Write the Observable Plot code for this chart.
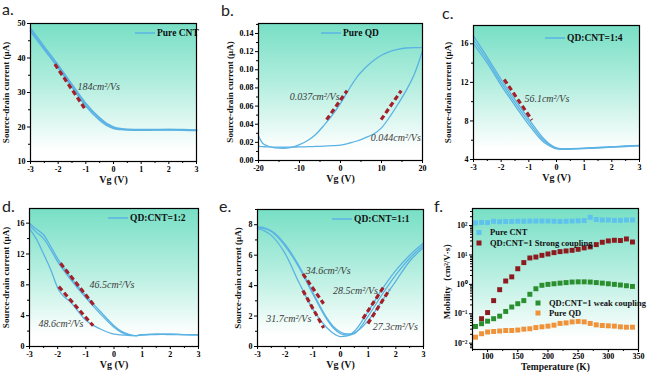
<!DOCTYPE html>
<html><head><meta charset="utf-8">
<script src="https://cdn.jsdelivr.net/npm/d3@7"></script>
<script src="https://cdn.jsdelivr.net/npm/@observablehq/plot@0.6"></script>
<style>
html,body{margin:0;padding:0;background:#fff;}
#root{position:relative;width:647px;height:376px;overflow:hidden;background:#fff;}
.plab{position:absolute;font-family:Lato,'Open Sans',sans-serif;font-size:16px;line-height:16px;color:#222;}
</style></head><body><div id="root"></div>
<script>
// ---------- DATA ----------
// (a) Pure CNT transfer curve
const aVg = [-3,-2.5,-2,-1.5,-1,-0.5,-0.25,0,0.25,0.5,1,1.5,2,2.5,3];
const aFwd = [48.6,43.2,37.9,32.3,26.8,22.6,21.0,20.0,19.5,19.3,19.2,19.25,19.25,19.2,19.1];
const aBwd = [47.8,42.5,37.2,31.6,26.1,22.0,20.5,19.6,19.3,19.15,19.1,19.15,19.2,19.1,19.0];
const aDashX1 = [-2.12], aDashY1 = [38.2], aDashX2 = [-1.05], aDashY2 = [25.5];
const aNote = ["184cm²/Vs"], aNoteX = [-1.3], aNoteY = [31.7];

// (b) Pure QD
const bVg = [-20,-19,-18,-16,-14,-12,-10,-8,-6,-4,-2,0,2,4,6,8,10,12,14,16,18,20];
const bUp = [0.027,0.019,0.0165,0.014,0.0135,0.0145,0.0175,0.022,0.029,0.039,0.050,0.063,0.078,0.092,0.102,0.110,0.116,0.120,0.1225,0.124,0.1245,0.1245];
const bLow = [0.0155,0.0153,0.015,0.0148,0.0147,0.0148,0.015,0.0152,0.0155,0.0158,0.0163,0.017,0.019,0.0215,0.025,0.029,0.036,0.048,0.062,0.077,0.095,0.121];
const bDashX1 = [-3.4, 9.9], bDashY1 = [0.045, 0.045], bDashX2 = [1.6, 14.8], bDashY2 = [0.077, 0.077];
const bNote = ["0.037cm²/Vs", "0.044cm²/Vs"], bNoteX = [-12.4, 7.4], bNoteY = [0.070, 0.025];

// (c) QD:CNT=1:4
const cVg = [-3,-2.5,-2,-1.5,-1,-0.5,-0.25,0,0.25,0.5,1,1.5,2,2.5,3];
const c1 = [16.8,14.6,12.3,10.2,8.2,6.3,5.6,5.2,5.1,5.12,5.18,5.25,5.32,5.4,5.47];
const c2 = [16.4,14.3,12.0,9.9,7.9,6.1,5.5,5.15,5.08,5.1,5.15,5.22,5.3,5.37,5.44];
const c3 = [16.0,14.0,11.7,9.6,7.6,5.9,5.4,5.1,5.05,5.08,5.13,5.2,5.28,5.35,5.42];
const cDashX1 = [-1.89], cDashY1 = [12.3], cDashX2 = [-0.89], cDashY2 = [8.1];
const cNote = ["56.1cm²/Vs"], cNoteX = [-1.16], cNoteY = [10.3];

// (d) QD:CNT=1:2
const dVg = [-3,-2.75,-2.5,-2.25,-2,-1.5,-1,-0.5,0,0.25,0.5,0.75,1,1.5,2,2.5,3];
const dUp1 = [16.0,15.2,14.5,13.0,11.4,8.8,6.6,4.6,2.7,2.0,1.6,1.4,1.55,1.6,1.6,1.55,1.55];
const dUp2 = [15.7,14.8,14.0,12.6,11.0,8.5,6.3,4.3,2.5,1.85,1.5,1.4,1.5,1.55,1.6,1.55,1.5];
const dLow = [15.3,13.9,12.0,10.0,7.6,5.6,3.4,2.3,1.6,1.5,1.45,1.4,1.5,1.6,1.55,1.55,1.5];
const dDashX1 = [-1.9, -1.96], dDashY1 = [10.8, 7.76], dDashX2 = [-0.72, -0.74], dDashY2 = [5.4, 2.69];
const dNote = ["46.5cm²/Vs", "48.6cm²/Vs"], dNoteX = [-0.87, -2.68], dNoteY = [8.0, 2.9];

// (e) QD:CNT=1:1
const eVg = [-3,-2.75,-2.5,-2,-1.5,-1,-0.5,-0.25,0,0.25,0.5,1,1.5,2,2.5,3];
const e1 = [7.75,7.6,7.3,6.1,4.2,2.45,1.25,0.85,0.65,0.7,1.0,2.3,3.75,5.0,6.0,6.8];
const e2 = [7.85,7.8,7.6,6.7,5.3,3.55,1.9,1.3,0.95,0.82,0.9,1.7,3.0,4.3,5.6,6.5];
const e3 = [7.8,7.75,7.55,6.6,5.2,3.45,1.8,1.2,0.85,0.75,0.85,2.0,3.4,4.7,5.8,6.65];
const eDashX1 = [-1.36, -1.36, 0.81, 0.99], eDashY1 = [4.77, 3.68, 1.83, 1.5];
const eDashX2 = [-0.61, -0.61, 1.59, 1.77], eDashY2 = [2.81, 1.22, 4.0, 3.73];
const eNote = ["34.6cm²/Vs", "28.5cm²/Vs", "31.7cm²/Vs", "27.3cm²/Vs"];
const eNoteX = [-1.26, -0.27, -2.68, 1.17], eNoteY = [4.99, 3.68, 1.83, 1.29];

// (f) Mobility vs temperature
const fT = [80,90,100,110,120,130,140,150,160,170,180,190,200,210,220,230,240,250,260,270,280,290,300,310,320,330,340];
const fCNT = [123,128,126,140,135,138,138,140,140,142,142,143,143,140,138,140,143,145,148,190,160,155,155,150,150,155,155];
const fStrongT = fT.slice(1);
const fStrong = [0.068,0.11,0.28,0.66,1.3,1.8,3.4,5.5,7.9,8.5,9.7,10.8,12,13,13.7,14.4,15.6,17.4,18.8,22.5,27,30,31.6,31,35,27.6];
const fWeak = [0.037,0.046,0.056,0.068,0.083,0.12,0.17,0.22,0.28,0.46,0.71,0.93,1.0,1.05,1.1,1.15,1.2,1.22,1.22,1.2,1.15,1.1,1.05,1.0,0.95,0.9,0.85];
const fQD = [0.016,0.021,0.024,0.025,0.026,0.027,0.027,0.028,0.030,0.031,0.034,0.036,0.038,0.041,0.047,0.049,0.053,0.055,0.053,0.047,0.042,0.040,0.039,0.038,0.036,0.035,0.035];
const fNames = ["Pure CNT", "QD:CNT=1 Strong coupling", "QD:CNT=1 weak coupling", "Pure QD"];

// ---------- STYLE ----------
const BLUE = "#5ab3e3", RED = "#a3202b";
const SERIF = "'Liberation Serif','Times New Roman',serif";
const FCOL = {cnt: "#5ec2ec", strong: "#8c1b20", weak: "#2b8f2f", qd: "#f0923a"};
const root = document.getElementById("root");

const ser = (xs, ys, k) => xs.map((x, i) => ({x, y: ys[i], k}));
const links = (x1, y1, x2, y2) => x1.map((v, i) => ({x1: v, y1: y1[i], x2: x2[i], y2: y2[i]}));
const notes = (t, xs, ys) => t.map((s, i) => ({t: s, x: xs[i], y: ys[i]}));
const hy = d => String(d);

function bg(id) {
  return (index, scales, values, dims) => {
    const g = d3.create("svg:g");
    const gr = g.append("defs").append("linearGradient").attr("id", id)
      .attr("x1", 0).attr("y1", 0).attr("x2", 0).attr("y2", 1);
    gr.append("stop").attr("offset", "0%").attr("stop-color", "#77dfc5");
    gr.append("stop").attr("offset", "45%").attr("stop-color", "#b4eedf");
    gr.append("stop").attr("offset", "92%").attr("stop-color", "#ffffff");
    g.append("rect").attr("x", dims.marginLeft).attr("y", dims.marginTop)
      .attr("width", dims.width - dims.marginLeft - dims.marginRight)
      .attr("height", dims.height - dims.marginTop - dims.marginBottom)
      .attr("fill", `url(#${id})`);
    return g.node();
  };
}
function legLine(label, lx, ly) {
  return (index, scales, values, dims) => {
    const g = d3.create("svg:g");
    const x0 = dims.marginLeft + lx, y0 = dims.marginTop + ly;
    g.append("line").attr("x1", x0).attr("x2", x0 + 20).attr("y1", y0).attr("y2", y0)
      .attr("stroke", BLUE).attr("stroke-width", 1.5);
    g.append("text").attr("x", x0 + 22).attr("y", y0).attr("dy", "0.35em")
      .attr("text-anchor", "start").attr("font-size", 9.5).attr("font-weight", "bold")
      .attr("font-family", SERIF).attr("fill", "#111").text(label);
    return g.node();
  };
}
function legSquares(items) {
  return (index, scales, values, dims) => {
    const g = d3.create("svg:g");
    for (const it of items) {
      const x0 = dims.marginLeft + it.lx, y0 = dims.marginTop + it.ly;
      g.append("rect").attr("x", x0 - 2.5).attr("y", y0 - 2.5).attr("width", 5).attr("height", 5).attr("fill", it.c);
      g.append("text").attr("x", x0 + 11).attr("y", y0).attr("dy", "0.35em")
        .attr("text-anchor", "start").attr("font-size", 8.5).attr("font-weight", "bold")
        .attr("font-family", SERIF).attr("fill", "#111").text(it.t);
    }
    return g.node();
  };
}
function dashes(data) {
  return Plot.link(data, {x1: "x1", y1: "y1", x2: "x2", y2: "y2", stroke: RED, strokeWidth: 3.2, strokeDasharray: "5,3"});
}
function noteText(data) {
  return Plot.text(data, {x: "x", y: "y", text: "t", textAnchor: "start", fontSize: 10, fontStyle: "italic", fontFamily: SERIF, fill: "#3a3a3a", fontWeight: "normal"});
}
function curves(data, w) {
  return Plot.line(data, {x: "x", y: "y", z: "k", stroke: BLUE, strokeWidth: w || 1.3, curve: "monotone-x"});
}

function panel(o) {
  const [t, r, b, l] = o.margin;
  const svg = Plot.plot({
    width: o.width, height: o.height, marginTop: t, marginRight: r, marginBottom: b, marginLeft: l,
    style: {background: "transparent", overflow: "visible", fontFamily: SERIF, fontWeight: "bold", fontSize: "8px", color: "#000"},
    x: {domain: o.xDomain, axis: null},
    y: {domain: o.yDomain, type: o.yType || "linear", axis: null},
    marks: [
      bg(o.id),
      ...o.marks,
      Plot.axisX(o.xMajor, {tickSize: 3, tickPadding: o.xPad ?? 2, tickFormat: o.xFmt || hy, label: null, fontSize: 8}),
      Plot.axisX(o.xMinor, {tickSize: 2, tickFormat: () => "", label: null}),
      Plot.axisY(o.yMajor, {tickSize: 3, tickPadding: 2, tickFormat: o.yFmt || hy, label: null, fontSize: 8}),
      Plot.axisY(o.yMinor, {tickSize: 2, tickFormat: () => "", label: null}),
      Plot.text([o.xLabel], {text: d => d, frameAnchor: "bottom", dy: o.xLabelDy || 21, fontSize: o.xLabelSize || 10, fontWeight: "bold", fill: "#111"}),
      Plot.text([o.yLabel], {text: d => d, frameAnchor: "left", dx: o.yLabelDx, rotate: -90, textAnchor: "middle", fontSize: 9, fontWeight: "bold", fill: "#111"}),
      Plot.frame({stroke: "#000", strokeWidth: 1.2})
    ]
  });
  svg.style.position = "absolute";
  svg.style.left = o.left + "px";
  svg.style.top = o.top + "px";
  root.appendChild(svg);
}
function label(txt, x, baseline) {
  const d = document.createElement("div");
  d.className = "plab"; d.textContent = txt;
  d.style.left = x + "px"; d.style.top = (baseline - 13) + "px";
  root.appendChild(d);
}
const YL = "Source-drain current (μA)";
const range = (a, b, s) => d3.range(a, b + s / 2, s);

// (a)
panel({id: "ga", left: 0, top: 0, width: 215, height: 190, margin: [23, 19, 29, 30],
  xDomain: [-3, 3], yDomain: [10, 50], xMajor: range(-3, 3, 1), xMinor: range(-2.5, 2.5, 1),
  yMajor: range(10, 50, 10), yMinor: range(15, 45, 10), xLabel: "Vg (V)", yLabel: YL, yLabelDx: -24,
  marks: [curves([...ser(aVg, aFwd, "f"), ...ser(aVg, aBwd, "b")], 1.8),
    dashes(links(aDashX1, aDashY1, aDashX2, aDashY2)), noteText(notes(aNote, aNoteX, aNoteY)),
    legLine("Pure CNT", 105, 10)]});
// (b)
panel({id: "gb", left: 215, top: 0, width: 215, height: 190, margin: [23, 8, 30, 43],
  xDomain: [-20, 20], yDomain: [0, 0.151], xMajor: range(-20, 20, 10), xMinor: range(-15, 15, 10),
  yMajor: range(0, 0.14, 0.02), yMinor: range(0.01, 0.15, 0.02), yFmt: d3.format(".2f"),
  xLabel: "Vg (V)", yLabel: YL, yLabelDx: -28,
  marks: [curves([...ser(bVg, bUp, "u"), ...ser(bVg, bLow, "l")]),
    dashes(links(bDashX1, bDashY1, bDashX2, bDashY2)), noteText(notes(bNote, bNoteX, bNoteY)),
    legLine("Pure QD", 63, 10)]});
// (c)
panel({id: "gc", left: 430, top: 0, width: 217, height: 190, margin: [25, 8, 31, 43],
  xDomain: [-3, 3], yDomain: [4, 17.9], xMajor: range(-3, 3, 1), xMinor: range(-2.5, 2.5, 1),
  yMajor: range(4, 16, 4), yMinor: range(6, 16, 4), xLabel: "Vg (V)", yLabel: YL, yLabelDx: -25,
  marks: [curves([...ser(cVg, c1, "1"), ...ser(cVg, c2, "2"), ...ser(cVg, c3, "3")]),
    dashes(links(cDashX1, cDashY1, cDashX2, cDashY2)), noteText(notes(cNote, cNoteX, cNoteY)),
    legLine("QD:CNT=1:4", 72, 13)]});
// (d)
panel({id: "gd", left: 0, top: 186, width: 215, height: 190, margin: [22, 17, 30, 29],
  xDomain: [-3, 3], yDomain: [0, 17.9], xMajor: range(-3, 3, 1), xMinor: range(-2.5, 2.5, 1),
  yMajor: range(0, 16, 4), yMinor: range(2, 16, 4), xLabel: "Vg (V)", yLabel: YL, yLabelDx: -23,
  marks: [curves([...ser(dVg, dUp1, "1"), ...ser(dVg, dUp2, "2"), ...ser(dVg, dLow, "3")]),
    dashes(links(dDashX1, dDashY1, dDashX2, dDashY2)), noteText(notes(dNote, dNoteX, dNoteY)),
    legLine("QD:CNT=1:2", 79, 10)]});
// (e)
panel({id: "ge", left: 215, top: 186, width: 215, height: 190, margin: [23, 7, 30, 42],
  xDomain: [-3, 3], yDomain: [0, 9], xMajor: range(-3, 3, 1), xMinor: range(-2.5, 2.5, 1),
  yMajor: range(0, 8, 2), yMinor: range(1, 9, 2), xLabel: "Vg (V)", yLabel: YL, yLabelDx: -19,
  marks: [curves([...ser(eVg, e1, "1"), ...ser(eVg, e2, "2"), ...ser(eVg, e3, "3")]),
    dashes(links(eDashX1, eDashY1, eDashX2, eDashY2)), noteText(notes(eNote, eNoteX, eNoteY)),
    legLine("QD:CNT=1:1", 75, 10)]});
// (f)
const sup = {"-2": "⁻²", "-1": "⁻¹", "0": "⁰", "1": "¹", "2": "²"};
const logMinor = [];
for (let e = -3; e <= 2; e++) for (let m = 2; m <= 9; m++) { const v = m * 10 ** e; if (v > 0.0061 && v < 380) logMinor.push(v); }
const sq = (xs, ys, c) => Plot.dot(ser(xs, ys, c), {x: "x", y: "y", symbol: "square", r: 2.8, fill: c, stroke: null});
panel({id: "gf", left: 430, top: 186, width: 217, height: 190, margin: [22, 9, 27, 42],
  xDomain: [75, 350], yDomain: [0.0061, 380], yType: "log",
  xMajor: range(100, 350, 50), xMinor: range(75, 325, 50), xPad: 1,
  yMajor: [0.01, 0.1, 1, 10, 100], yMinor: logMinor,
  yFmt: d => "10" + sup[String(Math.round(Math.log10(d)))],
  xLabel: "Temperature (K)", xLabelDy: 20, xLabelSize: 9.5, yLabel: "Mobility（cm²/V·s）", yLabelDx: -25,
  marks: [sq(fT, fCNT, FCOL.cnt), sq(fStrongT, fStrong, FCOL.strong), sq(fT, fWeak, FCOL.weak), sq(fT, fQD, FCOL.qd),
    legSquares([{t: fNames[0], c: FCOL.cnt, lx: 7, ly: 24.5}, {t: fNames[1], c: FCOL.strong, lx: 7, ly: 35},
      {t: fNames[2], c: FCOL.weak, lx: 66, ly: 95}, {t: fNames[3], c: FCOL.qd, lx: 66, ly: 105}])]});

label("a.", 2, 13.5); label("b.", 221, 15); label("c.", 442, 18);
label("d.", 2, 210.5); label("e.", 219, 210.5); label("f.", 434, 210.5);
</script></body></html>
